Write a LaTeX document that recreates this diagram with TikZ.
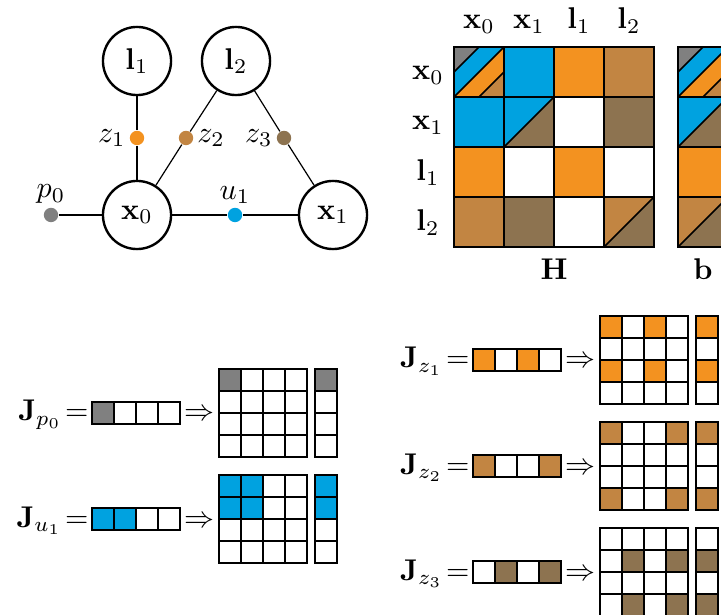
\documentclass[tikz,border=0pt]{standalone}
\usepackage{amsmath}
\usepackage{amssymb}

\definecolor{cgray}{RGB}{128,128,128}
\definecolor{cblue}{RGB}{0,162,224}
\definecolor{corange}{RGB}{243,146,32}
\definecolor{cbrown}{RGB}{194,133,66}
\definecolor{cdark}{RGB}{141,115,80}

% one jacobian: row vector => block of H and block of b
\newcommand{\jac}[4]{%
	\node[anchor=base east, inner sep=0pt] (#1lab) at (-3,19) {$\mathbf{J}_{#4}\!=$};
	\node[anchor=base, inner sep=0pt] (#1arr) at (107,19) {$\Rightarrow$};
	\foreach \i in {#3} {
		\fill[#2] ({(\i-1)*22},0) rectangle ++(22,22);
		\fill[#2] (223,{(\i-1)*22-33}) rectangle ++(22,22);
		\foreach \j in {#3}
			\fill[#2] ({127+(\j-1)*22},{(\i-1)*22-33}) rectangle ++(22,22);
	}
	\foreach \k in {0,...,3} {
		\draw[cellgrid] (\k*22,0) rectangle ++(22,22);
		\draw[cellgrid] (223,\k*22-33) rectangle ++(22,22);
		\foreach \m in {0,...,3}
			\draw[cellgrid] (127+\m*22,\k*22-33) rectangle ++(22,22);
	}
}

% the x0,x0 cell, all four factors
\newcommand{\stripecell}{%
	\fill[cgray] (0,0) -- (25,0) -- (0,25) -- cycle;
	\fill[cblue] (25,0) -- (50,0) -- (0,50) -- (0,25) -- cycle;
	\fill[corange] (50,0) -- (50,25) -- (25,50) -- (0,50) -- cycle;
	\fill[cbrown] (50,25) -- (50,50) -- (25,50) -- cycle;
	\draw[cellgrid] (0,25) -- (25,0) (0,50) -- (50,0) (25,50) -- (50,25);
}

\begin{document}
\begin{tikzpicture}[x=0.3333pt, y=-0.3333pt,
	var/.style={circle, draw, line width=0.8pt, minimum size=22.7pt, inner sep=0pt},
	fac/.style={circle, inner sep=0pt, minimum size=4.8pt},
	cellgrid/.style={line width=0.5pt}]

	\useasboundingbox (0,0) rectangle (721,615);
	\clip (0,0) rectangle (721,615);

	% factor graph
	\node[var] (l1) at (137,61) {$\mathbf{l}_1$};
	\node[var] (l2) at (236,61) {$\mathbf{l}_2$};
	\node[var] (x0) at (137,215) {$\mathbf{x}_0$};
	\node[var] (x1) at (333,215) {$\mathbf{x}_1$};
	\node[fac, fill=cgray, label={[inner sep=1pt]above:$p_0$}] (p0) at (51,215) {};
	\node[fac, fill=cblue, label={[inner sep=1pt]above:$u_1$}] (u1) at (235,215) {};
	\node[fac, fill=corange, label={[inner sep=1pt]left:$z_1$}] (z1) at (137,138) {};
	\node[fac, fill=cbrown, label={[inner sep=1pt]right:$z_2$}] (z2) at (186,138) {};
	\node[fac, fill=cdark, label={[inner sep=1pt]left:$z_3$}] (z3) at (284,138) {};

	\path[thin]
	(p0) edge (x0)
	(x0) edge (u1)
	(u1) edge (x1)
	(l1) edge (z1)
	(z1) edge (x0)
	(l2) edge (z2)
	(z2) edge (x0)
	(l2) edge (z3)
	(z3) edge (x1);

	% H and b
	\node[anchor=base] (cx0) at (479,29) {$\mathbf{x}_0$};
	\node[anchor=base] (cx1) at (529,29) {$\mathbf{x}_1$};
	\node[anchor=base] (cl1) at (579,29) {$\mathbf{l}_1$};
	\node[anchor=base] (cl2) at (629,29) {$\mathbf{l}_2$};
	\node[anchor=base] (rx0) at (428,80) {$\mathbf{x}_0$};
	\node[anchor=base] (rx1) at (428,130) {$\mathbf{x}_1$};
	\node[anchor=base] (rl1) at (428,181) {$\mathbf{l}_1$};
	\node[anchor=base] (rl2) at (428,231) {$\mathbf{l}_2$};
	\node[anchor=base] (hlab) at (554,280) {$\mathbf{H}$};
	\node[anchor=base] (blab) at (703,280) {$\mathbf{b}$};

	\begin{scope}[shift={(454,47)}]
		\stripecell
		\foreach \c/\r/\col in {1/0/cblue, 2/0/corange, 3/0/cbrown, 0/1/cblue, 3/1/cdark,
			0/2/corange, 2/2/corange, 0/3/cbrown, 1/3/cdark}
			\fill[\col] (\c*50,\r*50) rectangle ++(50,50);
		\foreach \c/\r/\ca/\cb in {1/1/cblue/cdark, 3/3/cbrown/cdark} {
			\fill[\ca] (\c*50,\r*50) -- ++(50,0) -- ++(-50,50) -- cycle;
			\fill[\cb] (\c*50+50,\r*50) -- ++(0,50) -- ++(-50,0) -- cycle;
			\draw[cellgrid] (\c*50,\r*50+50) -- ++(50,-50);
		}
		\foreach \c in {0,...,3}
			\foreach \r in {0,...,3}
				\draw[cellgrid] (\c*50,\r*50) rectangle ++(50,50);
	\end{scope}

	\begin{scope}[shift={(678,47)}]
		\stripecell
		\fill[corange] (0,100) rectangle (50,150);
		\foreach \r/\ca/\cb in {1/cblue/cdark, 3/cbrown/cdark} {
			\fill[\ca] (0,\r*50) -- ++(50,0) -- ++(-50,50) -- cycle;
			\fill[\cb] (50,\r*50) -- ++(0,50) -- ++(-50,0) -- cycle;
			\draw[cellgrid] (0,\r*50+50) -- ++(50,-50);
		}
		\foreach \r in {0,...,3}
			\draw[cellgrid] (0,\r*50) rectangle ++(50,50);
	\end{scope}

	% jacobians
	\begin{scope}[shift={(92,402)}]
		\jac{jp}{cgray}{1}{p_0}
	\end{scope}
	\begin{scope}[shift={(92,508)}]
		\jac{ju}{cblue}{1,2}{u_1}
	\end{scope}
	\begin{scope}[shift={(473,349)}]
		\jac{ja}{corange}{1,3}{z_1}
	\end{scope}
	\begin{scope}[shift={(473,455)}]
		\jac{jb}{cbrown}{1,4}{z_2}
	\end{scope}
	\begin{scope}[shift={(473,561)}]
		\jac{jc}{cdark}{2,4}{z_3}
	\end{scope}

\end{tikzpicture}
\end{document}
